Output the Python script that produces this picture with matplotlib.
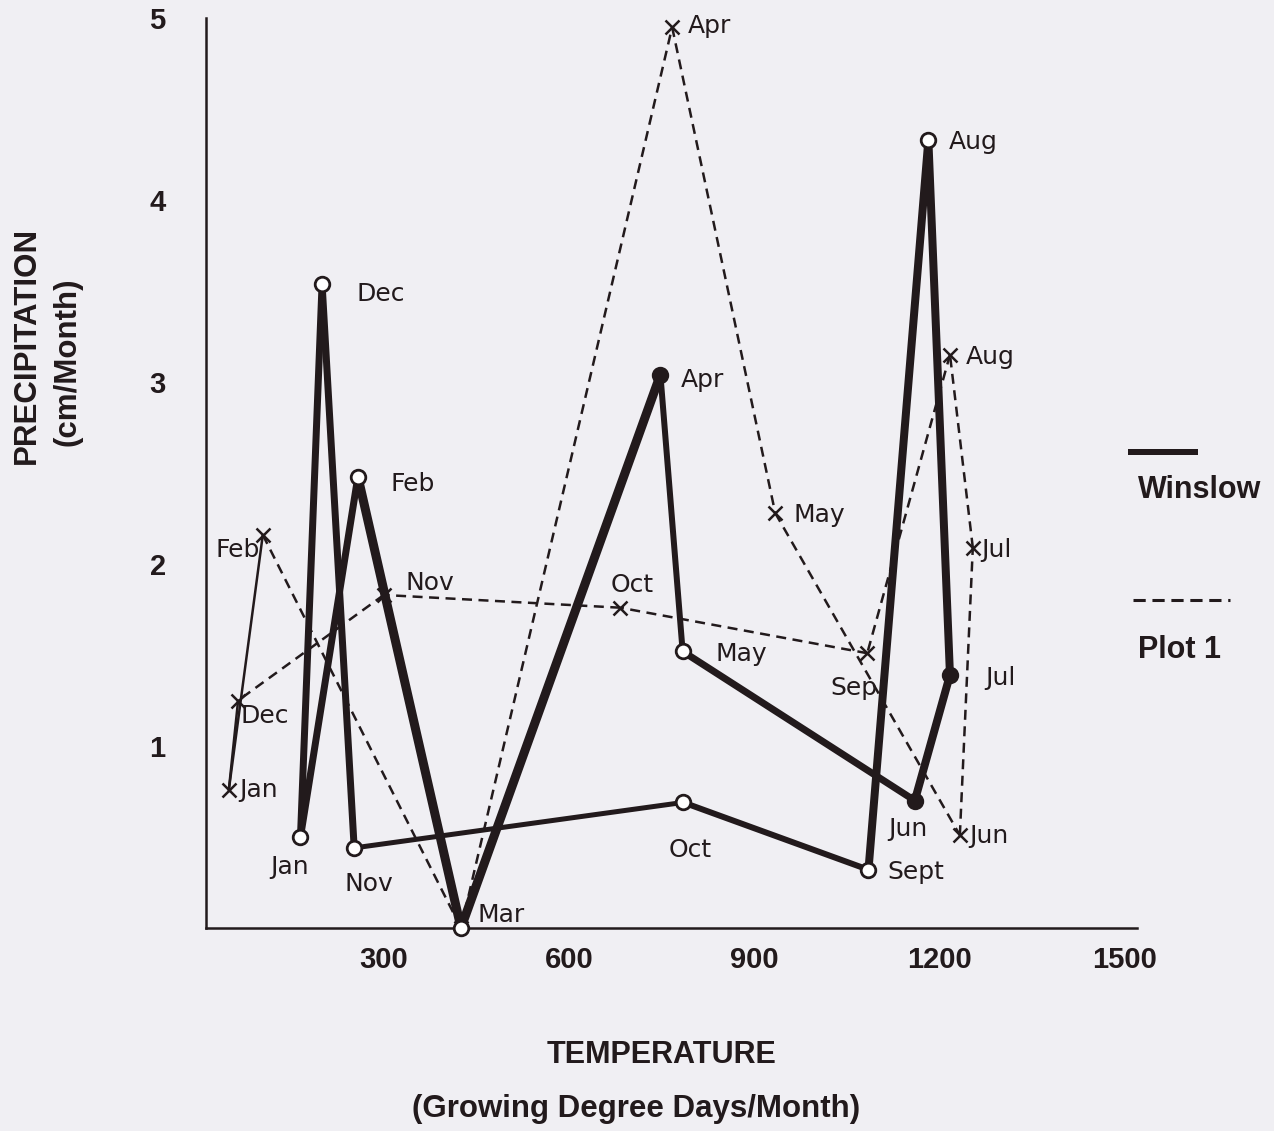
import matplotlib
matplotlib.use("Agg")
import matplotlib.pyplot as plt
from matplotlib.lines import Line2D

# Data (temperature in growing degree days/month, precipitation cm/month)
months = ["Jan", "Feb", "Mar", "Apr", "May", "Jun",
          "Jul", "Aug", "Sept", "Oct", "Nov", "Dec"]

winslow_temp = [165, 258, 425, 748, 784, 1160, 1217, 1182, 1085, 785, 252, 200]
winslow_prec = [0.50, 2.48, 0.00, 3.04, 1.52, 0.70, 1.39, 4.33, 0.32, 0.69, 0.44, 3.54]

plot1_temp = [49, 104, 425, 767, 934, 1233, 1254, 1217, 1083, 683, 300, 64]
plot1_prec = [0.76, 2.16, 0.00, 4.95, 2.28, 0.51, 2.09, 3.15, 1.51, 1.76, 1.83, 1.25]
plot1_labels = ["Jan", "Feb", "", "Apr", "May", "Jun",
                "Jul", "Aug", "Sep", "Oct", "Nov", "Dec"]

x_ticks = [300, 600, 900, 1200, 1500]
y_ticks = [1, 2, 3, 4, 5]

INK = "#221a1c"
BG = "#f0eff3"
PX = 0.72  # pixel -> point at dpi 100

# Segment widths (px) for the thick line, Jan->Feb ... Dec->Jan
seg_width = [7, 9, 9, 6, 7, 8, 8, 8, 6, 5, 7, 7]
filled = {"Apr", "Jun", "Jul"}

# label offsets (px, right/up) and alignment
w_lab = {
    "Jan": (-11, -30, "center"), "Feb": (33, -7, "left"), "Mar": (17, 13, "left"),
    "Apr": (20, -5, "left"), "May": (33, -3, "left"), "Jun": (-7, -28, "center"),
    "Jul": (35, -3, "left"), "Aug": (20, -2, "left"), "Sept": (19, -2, "left"),
    "Oct": (7, -48, "center"), "Nov": (15, -36, "center"), "Dec": (34, -10, "left"),
}
p_lab = {
    "Jan": (10, 0, "left"), "Feb": (-3, -15, "right"), "Apr": (16, 1, "left"),
    "May": (18, -2, "left"), "Jun": (9, -1, "left"), "Jul": (8, -2, "left"),
    "Aug": (16, -2, "left"), "Sep": (-37, -35, "left"), "Oct": (12, 23, "center"),
    "Nov": (22, 12, "left"), "Dec": (2, -15, "left"),
}

fig = plt.figure(figsize=(12.74, 11.31), dpi=100, facecolor=BG)
ax = fig.add_axes([0.1617, 0.1795, 0.7308, 0.8045], facecolor=BG)

n = len(months)

# Plot 1: thin line, solid between Dec-Jan-Feb, dashed elsewhere
for i in range(n):
    j = (i + 1) % n
    xs = [plot1_temp[i], plot1_temp[j]]
    ys = [plot1_prec[i], plot1_prec[j]]
    if months[i] in ("Dec", "Jan"):
        ax.plot(xs, ys, color=INK, lw=1.8, solid_capstyle="round", zorder=2)
    else:
        ax.plot(xs, ys, color=INK, lw=1.8, dashes=(4, 2.6), zorder=2)
ax.plot(plot1_temp, plot1_prec, ls="none", marker="x", ms=9.5, mew=1.8,
        color=INK, zorder=3)

# Winslow: thick solid line
for i in range(n):
    j = (i + 1) % n
    ax.plot([winslow_temp[i], winslow_temp[j]], [winslow_prec[i], winslow_prec[j]],
            color=INK, lw=seg_width[i] * PX, solid_capstyle="round", zorder=4)
for m, x, y in zip(months, winslow_temp, winslow_prec):
    ax.plot(x, y, marker="o", ms=10.5, mew=2.0, mec=INK,
            mfc=INK if m in filled else "white", zorder=5, clip_on=False)

# month labels
for m, x, y in zip(months, winslow_temp, winslow_prec):
    dx, dy, ha = w_lab[m]
    ax.annotate(m, (x, y), xytext=(dx * PX, dy * PX), textcoords="offset points",
                ha=ha, va="center", fontsize=18, color=INK, zorder=6)
for m, x, y in zip(plot1_labels, plot1_temp, plot1_prec):
    if not m:
        continue
    dx, dy, ha = p_lab[m]
    ax.annotate(m, (x, y), xytext=(dx * PX, dy * PX), textcoords="offset points",
                ha=ha, va="center", fontsize=18, color=INK, zorder=6)

ax.set_xlim(12, 1520)
ax.set_ylim(0, 5.0)
ax.set_xticks(x_ticks)
ax.set_yticks(y_ticks)
ax.tick_params(length=0, labelsize=21, colors=INK)
ax.tick_params(axis="x", pad=13)
ax.tick_params(axis="y", pad=29)
for lab in ax.get_xticklabels() + ax.get_yticklabels():
    lab.set_fontweight("bold")
    lab.set_fontfamily("Liberation Sans")
for s in ["top", "right"]:
    ax.spines[s].set_visible(False)
for s in ["left", "bottom"]:
    ax.spines[s].set_linewidth(1.8)
    ax.spines[s].set_color(INK)

bold = dict(fontfamily="Liberation Sans", fontweight="bold", color=INK)
fig.text(662 / 1274, 1 - 1055 / 1131, "TEMPERATURE", ha="center", va="center",
         fontsize=22, **bold)
fig.text(636 / 1274, 1 - 1109 / 1131, "(Growing Degree Days/Month)", ha="center",
         va="center", fontsize=22.5, **bold)
fig.text(27 / 1274, 1 - 345 / 1131, "PRECIPITATION", rotation=90, ha="center",
         va="center", fontsize=22.5, **bold)
fig.text(68 / 1274, 1 - 362 / 1131, "(cm/Month)", rotation=90, ha="center",
         va="center", fontsize=22.5, **bold)

# legend outside the axes
fig.add_artist(Line2D([1131 / 1274, 1195 / 1274], [1 - 452 / 1131] * 2,
                      color=INK, lw=6 * PX, transform=fig.transFigure))
fig.text(1138 / 1274, 1 - 490 / 1131, "Winslow", ha="left", va="center",
         fontsize=22, **bold)
fig.add_artist(Line2D([1133 / 1274, 1230 / 1274], [1 - 600 / 1131] * 2,
                      color=INK, lw=2.2, dashes=(4, 2.2), transform=fig.transFigure))
fig.text(1138 / 1274, 1 - 650 / 1131, "Plot 1", ha="left", va="center",
         fontsize=22, **bold)

fig.savefig("out.png", dpi=100, facecolor=BG)
